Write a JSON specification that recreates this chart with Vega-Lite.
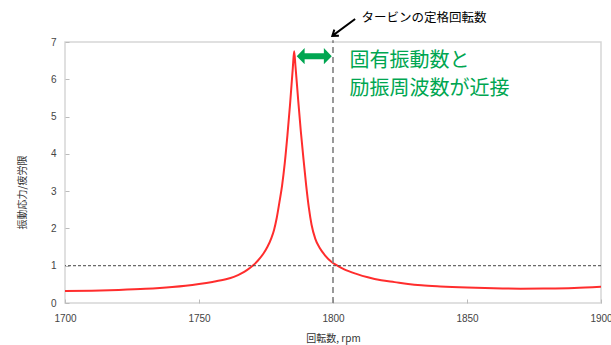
{
  "$schema": "https://vega.github.io/schema/vega-lite/v6.json",
  "width": 536,
  "height": 261,
  "autosize": "none",
  "padding": {"left": 65, "top": 42, "right": 10, "bottom": 42},
  "background": "white",
  "config": {
    "view": {"stroke": "#d6d6d6", "strokeWidth": 1.5},
    "axis": {"grid": false, "domain": false, "tickColor": "#bbbbbb", "tickSize": -4, "labelOverlap": false, "labelFlush": false, "format": "d", "labelFont": "Liberation Sans", "labelFontSize": 10, "labelColor": "#444444", "titleFont": "Noto Sans CJK JP", "titleFontSize": 10, "titleColor": "#333333", "titleFontWeight": "normal"},
    "axisY": {"tickCount": 8},
    "axisX": {"tickCount": 5}
  },
  "layer": [
    {
      "data": {"values": [
        {"rpm": 1700, "ratio": 0.32}, {"rpm": 1710, "ratio": 0.33}, {"rpm": 1720, "ratio": 0.35}, {"rpm": 1730, "ratio": 0.38},
        {"rpm": 1740, "ratio": 0.43}, {"rpm": 1745, "ratio": 0.465}, {"rpm": 1750, "ratio": 0.51}, {"rpm": 1755, "ratio": 0.565},
        {"rpm": 1760, "ratio": 0.635}, {"rpm": 1763, "ratio": 0.7}, {"rpm": 1766, "ratio": 0.8}, {"rpm": 1768, "ratio": 0.89},
        {"rpm": 1770, "ratio": 1.0}, {"rpm": 1772, "ratio": 1.14}, {"rpm": 1774, "ratio": 1.32}, {"rpm": 1775.5, "ratio": 1.5},
        {"rpm": 1777, "ratio": 1.74}, {"rpm": 1778, "ratio": 1.96}, {"rpm": 1779, "ratio": 2.28}, {"rpm": 1780, "ratio": 2.7},
        {"rpm": 1781, "ratio": 3.15}, {"rpm": 1782, "ratio": 3.75}, {"rpm": 1783, "ratio": 4.5}, {"rpm": 1784, "ratio": 5.35},
        {"rpm": 1785, "ratio": 6.3}, {"rpm": 1785.5, "ratio": 6.75}, {"rpm": 1786, "ratio": 6.35}, {"rpm": 1787, "ratio": 5.45},
        {"rpm": 1788, "ratio": 4.6}, {"rpm": 1789, "ratio": 3.85}, {"rpm": 1790, "ratio": 3.15}, {"rpm": 1791, "ratio": 2.55},
        {"rpm": 1792, "ratio": 2.1}, {"rpm": 1793.4, "ratio": 1.72}, {"rpm": 1795, "ratio": 1.48}, {"rpm": 1797, "ratio": 1.28},
        {"rpm": 1799.5, "ratio": 1.1}, {"rpm": 1801, "ratio": 1.03}, {"rpm": 1804, "ratio": 0.91}, {"rpm": 1809, "ratio": 0.775},
        {"rpm": 1813, "ratio": 0.69}, {"rpm": 1818, "ratio": 0.61}, {"rpm": 1823, "ratio": 0.56}, {"rpm": 1828, "ratio": 0.51},
        {"rpm": 1833, "ratio": 0.475}, {"rpm": 1840, "ratio": 0.445}, {"rpm": 1850, "ratio": 0.415}, {"rpm": 1860, "ratio": 0.395},
        {"rpm": 1870, "ratio": 0.385}, {"rpm": 1880, "ratio": 0.39}, {"rpm": 1890, "ratio": 0.405}, {"rpm": 1900, "ratio": 0.435}
      ]},
      "mark": {"type": "line", "color": "#ff2d2d", "strokeWidth": 2, "interpolate": "monotone"},
      "encoding": {
        "x": {"field": "rpm", "type": "quantitative", "scale": {"domain": [1700, 1900], "nice": false, "zero": false},
          "axis": {"values": [1700, 1750, 1800, 1850, 1900], "title": "回転数, rpm", "labelPadding": 14, "titleBaseline": "middle", "titleY": 35}},
        "y": {"field": "ratio", "type": "quantitative", "scale": {"domain": [0, 7], "nice": false},
          "axis": {"values": [0, 1, 2, 3, 4, 5, 6, 7], "labelOverlap": false, "title": "振動応力/疲労限", "labelPadding": 13, "titleBaseline": "middle", "titleX": -43, "titleY": 150}}
      }
    },
    {
      "data": {"values": [{"level": 1}]},
      "mark": {"type": "rule", "color": "#444444", "strokeWidth": 1, "strokeDash": [3, 2]},
      "encoding": {"y": {"field": "level", "type": "quantitative"}}
    },
    {
      "data": {"values": [{"rated": 1800, "bottom": 0, "top": 7.05}]},
      "mark": {"type": "rule", "color": "#808080", "strokeWidth": 1.6, "strokeDash": [6, 4]},
      "encoding": {
        "x": {"field": "rated", "type": "quantitative"},
        "y": {"field": "bottom", "type": "quantitative"},
        "y2": {"field": "top"}
      }
    },
    {
      "data": {"values": [{"rpm": 1793.0, "ratio": 6.62}]},
      "mark": {"type": "point", "shape": "M-1,0L-0.55,-0.46L-0.55,-0.17L0.55,-0.17L0.55,-0.46L1,0L0.55,0.46L0.55,0.17L-0.55,0.17L-0.55,0.46Z", "size": 1225, "filled": true, "color": "#00a651", "opacity": 1, "strokeWidth": 0},
      "encoding": {"x": {"field": "rpm", "type": "quantitative"}, "y": {"field": "ratio", "type": "quantitative"}}
    },
    {
      "data": {"values": [{"rpm": 1804.0, "ratio": 7.39}]},
      "mark": {"type": "point", "shape": "M0.95,-0.7L-0.95,0.7M-0.4,0.69L-0.95,0.7L-0.78,0.18", "size": 576, "filled": false, "stroke": "#000000", "strokeWidth": 2, "opacity": 1},
      "encoding": {"x": {"field": "rpm", "type": "quantitative"}, "y": {"field": "ratio", "type": "quantitative"}}
    },
    {
      "data": {"values": [{"rpm": 1810.6, "ratio": 7.64, "label": "タービンの定格回転数"}]},
      "mark": {"type": "text", "align": "left", "baseline": "middle", "font": "Noto Sans CJK JP", "fontSize": 12.5, "color": "#000000"},
      "encoding": {"x": {"field": "rpm", "type": "quantitative"}, "y": {"field": "ratio", "type": "quantitative"}, "text": {"field": "label"}}
    },
    {
      "data": {"values": [
        {"rpm": 1806.2, "ratio": 6.49, "label": "固有振動数と"},
        {"rpm": 1806.2, "ratio": 5.74, "label": "励振周波数が近接"}
      ]},
      "mark": {"type": "text", "align": "left", "baseline": "middle", "font": "Noto Sans CJK JP", "fontSize": 20, "color": "#00a651"},
      "encoding": {"x": {"field": "rpm", "type": "quantitative"}, "y": {"field": "ratio", "type": "quantitative"}, "text": {"field": "label"}}
    }
  ]
}
